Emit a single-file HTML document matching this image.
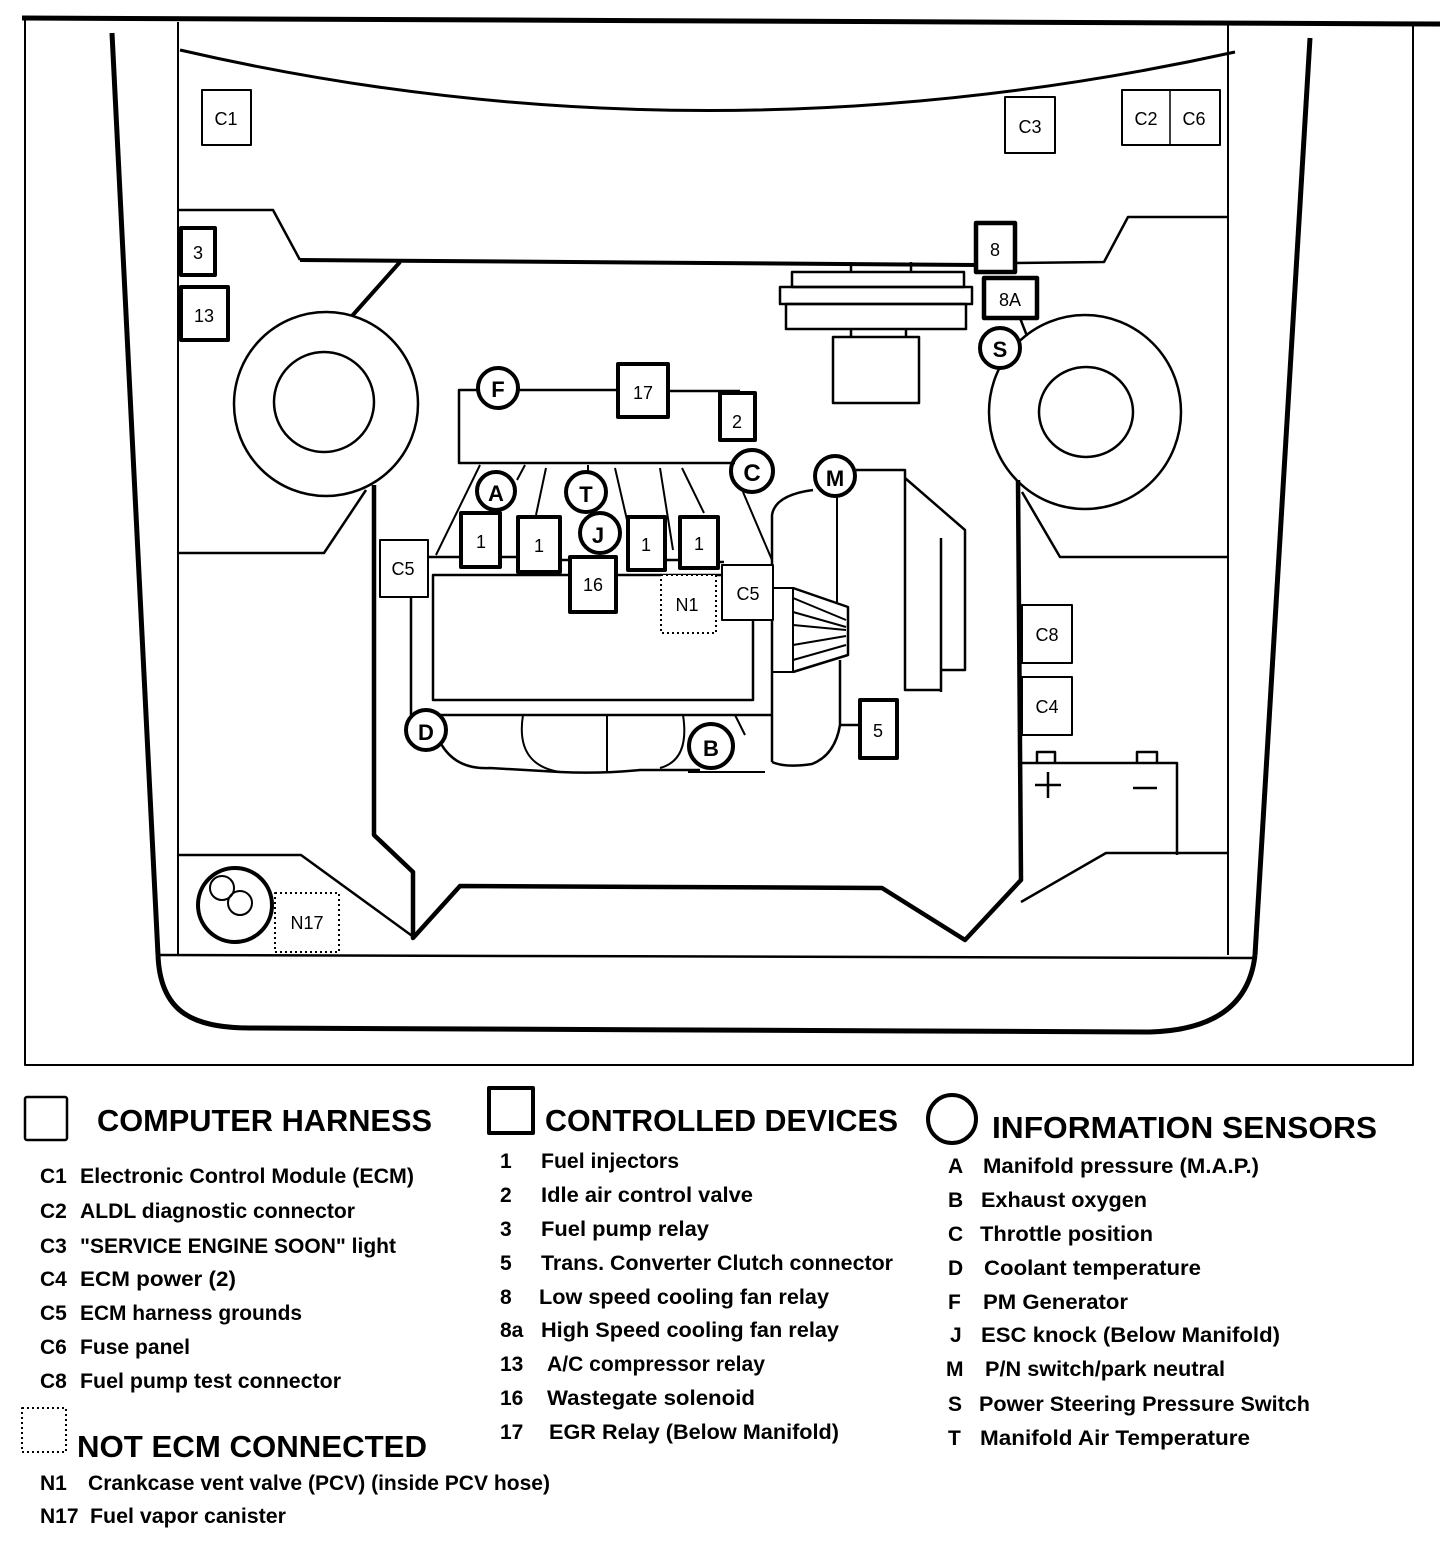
<!DOCTYPE html>
<html><head><meta charset="utf-8"><style>
html,body{margin:0;padding:0;background:#fff;}
svg{display:block;}
text{font-family:"Liberation Sans Narrow","Liberation Sans",sans-serif;fill:#000;}
.l{font-weight:bold;font-size:21px;}
.h{font-weight:bold;font-size:31px;}
.b{font-size:18px;text-anchor:middle;}
</style></head><body>
<svg width="1456" height="1544" viewBox="0 0 1456 1544" xmlns="http://www.w3.org/2000/svg" fill="none" stroke="#000" stroke-linejoin="round">
<!-- frame -->
<path d="M22,18 L1440,24" stroke-width="5"/>
<path d="M25,20 V1065 H1413 V25" stroke-width="2"/>
<!-- car body -->
<path d="M112,33 L158,955" stroke-width="5"/>
<path d="M1310,38 L1255,955" stroke-width="5"/>
<path d="M158,955 C160,1010 190,1028 250,1028 L1150,1032 C1220,1030 1250,1000 1255,955" stroke-width="5"/>
<path d="M158,955 L1255,958" stroke-width="2.5"/>
<path d="M178,22 V955 M1228,25 V955" stroke-width="2"/>
<path d="M180,50 Q700,170 1235,52" stroke-width="3"/>
<!-- cowl -->
<path d="M178,210 H273 L300,260" stroke-width="2.5"/>
<path d="M300,260 L976,265" stroke-width="4"/>
<path d="M1015,263 L1104,262 L1128,217 H1228" stroke-width="2.5"/>
<!-- boxes top -->
<rect x="202" y="90" width="49" height="55" stroke-width="2"/>
<text class="b" x="226" y="125" stroke="none">C1</text>
<rect x="1005" y="97" width="50" height="56" stroke-width="2"/>
<text class="b" x="1030" y="133" stroke="none">C3</text>
<rect x="1122" y="90" width="98" height="55" stroke-width="2"/>
<path d="M1170,90 V145" stroke-width="1.5"/>
<text class="b" x="1146" y="125" stroke="none">C2</text>
<text class="b" x="1194" y="125" stroke="none">C6</text>
<rect x="181" y="228" width="34" height="47" stroke-width="4"/>
<text class="b" x="198" y="259" stroke="none">3</text>
<rect x="181" y="287" width="47" height="53" stroke-width="4"/>
<text class="b" x="204" y="322" stroke="none">13</text>
<!-- left wheel -->
<ellipse cx="326" cy="404" rx="92" ry="92" stroke-width="2.5"/>
<ellipse cx="324" cy="402" rx="50" ry="50" stroke-width="2.5"/>
<path d="M400,262 L352,316" stroke-width="4"/>
<path d="M366,490 L324,553 H178" stroke-width="2.5"/>
<!-- right wheel -->
<ellipse cx="1085" cy="412" rx="96" ry="97" stroke-width="2.5"/>
<ellipse cx="1086" cy="412" rx="47" ry="45" stroke-width="2.5"/>
<path d="M1022,492 L1060,557 H1228" stroke-width="2.5"/>
<!-- engine bay outline -->
<path d="M374,485 V835 L413,872 V938 L460,886 L882,888 L965,940 L1021,880 L1018,480" stroke-width="4.5"/>
<path d="M178,855 H301 L415,938" stroke-width="2.5"/>
<path d="M1021,902 L1106,853 H1228" stroke-width="2.5"/>
<!-- relays 8 / 8A / S -->
<rect x="976" y="223" width="39" height="49" stroke-width="4.5"/>
<text class="b" x="995" y="256" stroke="none">8</text>
<rect x="984" y="278" width="53" height="40" stroke-width="4.5"/>
<text class="b" x="1010" y="306" stroke="none">8A</text>
<path d="M1020,318 L1027,336" stroke-width="2.5"/>
<circle cx="1000" cy="348" r="20" stroke-width="4" fill="#fff"/>
<text class="b" x="1000" y="357" stroke="none" style="font-size:22px;font-weight:bold">S</text>
<!-- air filter -->
<path d="M851,262 V272 M911,262 V272" stroke-width="2.5"/>
<rect x="792" y="272" width="172" height="15" stroke-width="2.5"/>
<rect x="780" y="287" width="192" height="17" stroke-width="2.5"/>
<rect x="786" y="304" width="180" height="25" stroke-width="2.5"/>
<path d="M851,329 V337 M906,329 V337" stroke-width="2.5"/>
<rect x="833" y="337" width="86" height="66" stroke-width="2.5"/>
<!-- plenum -->
<path d="M478,390 H459 V463 H735" stroke-width="2.5"/>
<path d="M518,390 H618 M668,391 H740" stroke-width="2.5"/>
<circle cx="498" cy="388" r="20" stroke-width="4"/>
<text class="b" x="498" y="397" stroke="none" style="font-size:22px;font-weight:bold">F</text>
<rect x="618" y="364" width="50" height="53" stroke-width="4"/>
<text class="b" x="643" y="399" stroke="none">17</text>
<rect x="720" y="393" width="35" height="47" stroke-width="4"/>
<text class="b" x="737" y="428" stroke="none">2</text>
<circle cx="752" cy="471" r="21" stroke-width="4"/>
<text class="b" x="752" y="481" stroke="none" style="font-size:24px;font-weight:bold">C</text>
<!-- injector lines -->
<path d="M480,465 L436,555 M525,465 L517,480 M546,468 L536,515 M588,465 V473 M615,468 L627,520 M660,468 L673,550 M682,468 L704,513 M743,492 L772,560" stroke-width="2"/>
<circle cx="496" cy="491" r="19" stroke-width="4"/>
<text class="b" x="496" y="501" stroke="none" style="font-size:22px;font-weight:bold">A</text>
<circle cx="586" cy="492" r="20" stroke-width="4"/>
<text class="b" x="586" y="502" stroke="none" style="font-size:22px;font-weight:bold">T</text>
<path d="M428,557 H461 M500,557 H518 M560,560 H572 M665,560 H680 M718,562 H724" stroke-width="2.5"/>
<rect x="461" y="513" width="39" height="54" stroke-width="4"/>
<text class="b" x="481" y="548" stroke="none">1</text>
<rect x="518" y="517" width="42" height="55" stroke-width="4"/>
<text class="b" x="539" y="552" stroke="none">1</text>
<rect x="628" y="517" width="37" height="53" stroke-width="4"/>
<text class="b" x="646" y="551" stroke="none">1</text>
<rect x="680" y="517" width="38" height="51" stroke-width="4"/>
<text class="b" x="699" y="550" stroke="none">1</text>
<circle cx="600" cy="533" r="20" stroke-width="4" fill="#fff"/>
<text class="b" x="598" y="543" stroke="none" style="font-size:22px;font-weight:bold">J</text>
<!-- lower block -->
<path d="M411,597 V715 H771" stroke-width="2.5"/>
<rect x="433" y="575" width="320" height="125" stroke-width="2.5" fill="#fff"/>
<rect x="380" y="540" width="48" height="57" stroke-width="2" fill="#fff"/>
<text class="b" x="403" y="575" stroke="none">C5</text>
<rect x="570" y="557" width="46" height="55" stroke-width="4" fill="#fff"/>
<text class="b" x="593" y="591" stroke="none">16</text>
<rect x="661" y="575" width="55" height="58" stroke-width="2" stroke-dasharray="2,3" fill="#fff"/>
<text class="b" x="687" y="611" stroke="none">N1</text>
<!-- transmission / gear -->
<path d="M772,762 V515 Q775,495 813,490" stroke-width="2.5"/>
<path d="M772,762 Q785,768 812,764 Q835,755 840,725 V660" stroke-width="2.5"/>
<path d="M837,497 V602" stroke-width="2"/>
<path d="M856,470 H905 V690 H941 M905,478 L965,530 V670 H942 M941,538 V692 M840,725 H860" stroke-width="2.5"/>
<circle cx="835" cy="476" r="20" stroke-width="4" fill="#fff"/>
<text class="b" x="835" y="486" stroke="none" style="font-size:22px;font-weight:bold">M</text>
<rect x="722" y="565" width="51" height="55" stroke-width="2" fill="#fff"/>
<text class="b" x="748" y="600" stroke="none">C5</text>
<path d="M773,588 H793 V672 H773" stroke-width="2"/>
<path d="M793,588 L848,607 V655 L793,672" stroke-width="2.5"/>
<path d="M793,598 L846,620 M793,612 L846,627 M793,625 L846,630 M793,645 L846,636 M793,660 L846,645" stroke-width="2"/>
<rect x="860" y="700" width="37" height="58" stroke-width="4"/>
<text class="b" x="878" y="737" stroke="none">5</text>
<!-- bottom engine -->
<path d="M440,742 Q455,770 490,768 L560,772 Q600,774 640,770 L700,770" stroke-width="2.5"/>
<path d="M523,715 Q515,765 560,772 M607,715 V771 M683,715 Q690,760 660,768 M688,772 H765" stroke-width="2"/>
<path d="M735,715 L745,735" stroke-width="2"/>
<circle cx="426" cy="730" r="20" stroke-width="4" fill="#fff"/>
<text class="b" x="426" y="740" stroke="none" style="font-size:22px;font-weight:bold">D</text>
<circle cx="711" cy="746" r="22" stroke-width="4" fill="#fff"/>
<text class="b" x="711" y="756" stroke="none" style="font-size:22px;font-weight:bold">B</text>
<!-- right side: C8 C4 battery -->
<rect x="1022" y="605" width="50" height="58" stroke-width="2"/>
<text class="b" x="1047" y="641" stroke="none">C8</text>
<rect x="1022" y="677" width="50" height="58" stroke-width="2"/>
<text class="b" x="1047" y="713" stroke="none">C4</text>
<path d="M1021,763 H1177 V855" stroke-width="2.5"/>
<path d="M1037,763 V752 H1055 V763 M1137,763 V752 H1157 V763" stroke-width="2.5"/>
<path d="M1048,772 V798 M1035,785 H1061 M1133,788 H1157" stroke-width="2.5"/>
<!-- canister -->
<circle cx="235" cy="905" r="37" stroke-width="4"/>
<circle cx="222" cy="888" r="12" stroke-width="2"/>
<circle cx="240" cy="903" r="12" stroke-width="2"/>
<rect x="275" y="893" width="64" height="59" stroke-width="2" stroke-dasharray="2,3"/>
<text class="b" x="307" y="929" stroke="none">N17</text>
<!-- legend -->
<rect x="25" y="1097" width="42" height="43" stroke-width="2.5" rx="2"/>
<text class="h" x="97" y="1131" stroke="none" textLength="335" lengthAdjust="spacingAndGlyphs">COMPUTER HARNESS</text>
<rect x="489" y="1088" width="44" height="45" stroke-width="4"/>
<text class="h" x="545" y="1131" stroke="none" textLength="353" lengthAdjust="spacingAndGlyphs">CONTROLLED DEVICES</text>
<circle cx="952" cy="1119" r="24" stroke-width="4"/>
<text class="h" x="992" y="1138" stroke="none" textLength="385" lengthAdjust="spacingAndGlyphs">INFORMATION SENSORS</text>
<rect x="22" y="1408" width="44" height="44" stroke-width="2" stroke-dasharray="2,3"/>
<text class="h" x="77" y="1457" stroke="none" textLength="350" lengthAdjust="spacingAndGlyphs">NOT ECM CONNECTED</text>
<g stroke="none" class="l">
<text class="l" x="40" y="1183">C1</text><text class="l" x="80" y="1183" textLength="334" lengthAdjust="spacingAndGlyphs">Electronic Control Module (ECM)</text>
<text class="l" x="40" y="1218">C2</text><text class="l" x="80" y="1218" textLength="275" lengthAdjust="spacingAndGlyphs">ALDL diagnostic connector</text>
<text class="l" x="40" y="1253">C3</text><text class="l" x="80" y="1253" textLength="316" lengthAdjust="spacingAndGlyphs">"SERVICE ENGINE SOON" light</text>
<text class="l" x="40" y="1286">C4</text><text class="l" x="80" y="1286" textLength="156" lengthAdjust="spacingAndGlyphs">ECM power  (2)</text>
<text class="l" x="40" y="1320">C5</text><text class="l" x="80" y="1320" textLength="222" lengthAdjust="spacingAndGlyphs">ECM harness grounds</text>
<text class="l" x="40" y="1354">C6</text><text class="l" x="80" y="1354" textLength="110" lengthAdjust="spacingAndGlyphs">Fuse panel</text>
<text class="l" x="40" y="1388">C8</text><text class="l" x="80" y="1388" textLength="261" lengthAdjust="spacingAndGlyphs">Fuel pump test connector</text>
<text class="l" x="40" y="1490">N1</text><text class="l" x="88" y="1490" textLength="462" lengthAdjust="spacingAndGlyphs">Crankcase vent valve (PCV) (inside PCV hose)</text>
<text class="l" x="40" y="1523">N17</text><text class="l" x="90" y="1523" textLength="196" lengthAdjust="spacingAndGlyphs">Fuel vapor canister</text>

<text class="l" x="500" y="1168">1</text><text class="l" x="541" y="1168" textLength="138" lengthAdjust="spacingAndGlyphs">Fuel injectors</text>
<text class="l" x="500" y="1202">2</text><text class="l" x="541" y="1202" textLength="212" lengthAdjust="spacingAndGlyphs">Idle air control valve</text>
<text class="l" x="500" y="1236">3</text><text class="l" x="541" y="1236" textLength="168" lengthAdjust="spacingAndGlyphs">Fuel pump relay</text>
<text class="l" x="500" y="1270">5</text><text class="l" x="541" y="1270" textLength="352" lengthAdjust="spacingAndGlyphs">Trans. Converter Clutch connector</text>
<text class="l" x="500" y="1304">8</text><text class="l" x="539" y="1304" textLength="290" lengthAdjust="spacingAndGlyphs">Low speed cooling fan relay</text>
<text class="l" x="500" y="1337">8a</text><text class="l" x="541" y="1337" textLength="298" lengthAdjust="spacingAndGlyphs">High Speed cooling fan relay</text>
<text class="l" x="500" y="1371">13</text><text class="l" x="547" y="1371" textLength="218" lengthAdjust="spacingAndGlyphs">A/C compressor relay</text>
<text class="l" x="500" y="1405">16</text><text class="l" x="547" y="1405" textLength="208" lengthAdjust="spacingAndGlyphs">Wastegate solenoid</text>
<text class="l" x="500" y="1439">17</text><text class="l" x="549" y="1439" textLength="290" lengthAdjust="spacingAndGlyphs">EGR Relay (Below Manifold)</text>

<text class="l" x="948" y="1173">A</text><text class="l" x="983" y="1173" textLength="276" lengthAdjust="spacingAndGlyphs">Manifold pressure (M.A.P.)</text>
<text class="l" x="948" y="1207">B</text><text class="l" x="981" y="1207" textLength="166" lengthAdjust="spacingAndGlyphs">Exhaust oxygen</text>
<text class="l" x="948" y="1241">C</text><text class="l" x="980" y="1241" textLength="173" lengthAdjust="spacingAndGlyphs">Throttle position</text>
<text class="l" x="948" y="1275">D</text><text class="l" x="984" y="1275" textLength="217" lengthAdjust="spacingAndGlyphs">Coolant temperature</text>
<text class="l" x="948" y="1309">F</text><text class="l" x="983" y="1309" textLength="145" lengthAdjust="spacingAndGlyphs">PM Generator</text>
<text class="l" x="950" y="1342">J</text><text class="l" x="981" y="1342" textLength="299" lengthAdjust="spacingAndGlyphs">ESC knock   (Below Manifold)</text>
<text class="l" x="946" y="1376">M</text><text class="l" x="985" y="1376" textLength="240" lengthAdjust="spacingAndGlyphs">P/N switch/park neutral</text>
<text class="l" x="948" y="1411">S</text><text class="l" x="979" y="1411" textLength="331" lengthAdjust="spacingAndGlyphs">Power Steering Pressure Switch</text>
<text class="l" x="948" y="1445">T</text><text class="l" x="980" y="1445" textLength="270" lengthAdjust="spacingAndGlyphs">Manifold Air Temperature</text>
</g>
</svg>
</body></html>
